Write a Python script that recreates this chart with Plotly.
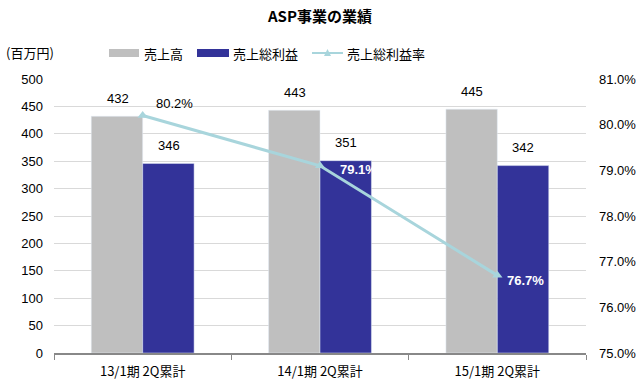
import plotly.graph_objects as go

categories = ["13/1期 2Q累計", "14/1期 2Q累計", "15/1期 2Q累計"]
sales = [432, 443, 445]
gross_profit = [346, 351, 342]
gross_margin = [80.2, 79.1, 76.7]
left_ticks = [0, 50, 100, 150, 200, 250, 300, 350, 400, 450, 500]
right_ticks = [75.0, 76.0, 77.0, 78.0, 79.0, 80.0, 81.0]

FONT = "Liberation Sans, Arial, Noto Sans CJK JP, sans-serif"
JP = "Noto Sans CJK JP, Liberation Sans, sans-serif"
GRAY = "#bfbfbf"
BLUE = "#333399"
LINE = "#a8d5dc"

fig = go.Figure()
fig.add_trace(go.Bar(x=categories, y=sales, name="売上高", marker_color=GRAY, offsetgroup="a"))
fig.add_trace(go.Bar(x=categories, y=gross_profit, name="売上総利益", marker_color=BLUE, offsetgroup="b"))
fig.add_trace(go.Scatter(x=categories, y=gross_margin, name="売上総利益率", yaxis="y2",
                         mode="lines+markers", line=dict(color=LINE, width=3),
                         marker=dict(symbol="triangle-up", size=9, color=LINE)))

annotations = []
for c, v in zip(categories, sales):
    annotations.append(dict(x=c, y=v, xref="x", yref="y", text=str(v), showarrow=False,
                            xshift=-25, yshift=18, font=dict(size=13, color="#000", family=FONT)))
for c, v in zip(categories, gross_profit):
    annotations.append(dict(x=c, y=v, xref="x", yref="y", text=str(v), showarrow=False,
                            xshift=26, yshift=18, font=dict(size=13, color="#000", family=FONT)))
m_shifts = [(11, 12, "#000", False), (18, -4, "#fff", True), (8, -5, "#fff", True)]
for c, v, (xs, ys, col, bold) in zip(categories, gross_margin, m_shifts):
    t = f"{v:.1f}%"
    if bold:
        t = f"<b>{t}</b>"
    annotations.append(dict(x=c, y=v, xref="x", yref="y2", text=t, showarrow=False,
                            xanchor="left", xshift=xs, yshift=ys,
                            font=dict(size=13, color=col, family=FONT)))

fig.update_layout(
    width=638, height=386,
    margin=dict(l=54, r=52, t=79, b=33, autoexpand=False),
    paper_bgcolor="white", plot_bgcolor="white",
    showlegend=False,
    barmode="group", bargap=0.42, bargroupgap=0,
    font=dict(family=FONT, size=13, color="#000"),
    xaxis=dict(showline=True, linecolor="#888888", linewidth=2, ticks="outside",
               ticklen=5, tickcolor="#888888", tickwidth=1, tickson="boundaries",
               ticklabelstandoff=5, automargin=False,
               tickfont=dict(family=JP, size=13), showgrid=False),
    yaxis=dict(range=[0, 500], tickvals=left_ticks, showgrid=True, gridcolor="#d9d9d9",
               gridwidth=1, zeroline=False, ticks="", ticklabelstandoff=10, automargin=False,
               tickfont=dict(size=13)),
    yaxis2=dict(range=[75, 81], tickvals=right_ticks, ticktext=[f"{v:.1f}%" for v in right_ticks],
                overlaying="y", side="right", showgrid=False, zeroline=False, ticks="",
                ticklabelstandoff=12, automargin=False, tickfont=dict(size=13)),
)

# title / unit / manual legend in pixel-like paper coords
H = 386 - 79 - 33
W = 638 - 54 - 52
def px(x):
    return (x - 54) / W
def py(y):
    return (353 - y) / H

annotations.append(dict(x=px(319), y=py(15), xref="paper", yref="paper", text="<b>ASP事業の業績</b>",
                        yanchor="middle", showarrow=False, font=dict(size=15, color="#000", family=JP)))
annotations.append(dict(x=px(4), y=py(52), xref="paper", yref="paper", text="(百万円)",
                        xanchor="left", yanchor="middle", showarrow=False,
                        font=dict(size=13, color="#000", family=JP)))
legend_items = [("売上高", 142), ("売上総利益", 231), ("売上総利益率", 345)]
for t, x0 in legend_items:
    annotations.append(dict(x=px(x0), y=py(53), xref="paper", yref="paper", text=t, xanchor="left",
                            yanchor="middle", showarrow=False,
                            font=dict(size=13, color="#000", family=JP)))
fig.update_layout(annotations=annotations)

shapes = [
    dict(type="rect", xref="paper", yref="paper", x0=px(109), x1=px(139), y0=py(57), y1=py(49),
         fillcolor=GRAY, line=dict(width=0)),
    dict(type="rect", xref="paper", yref="paper", x0=px(197), x1=px(229), y0=py(57), y1=py(49),
         fillcolor=BLUE, line=dict(width=0)),
    dict(type="line", xref="paper", yref="paper", x0=px(312), x1=px(343), y0=py(53), y1=py(53),
         line=dict(color=LINE, width=2)),
    dict(type="path", xref="paper", yref="paper",
         path=f"M {px(324)} {py(56)} L {px(331)} {py(56)} L {px(327.5)} {py(49)} Z",
         fillcolor=LINE, line=dict(width=0)),
]
fig.update_layout(shapes=shapes)

fig.write_html("out.html", config={"displayModeBar": False})

with open("out.html", "r", encoding="utf-8") as f:
    html = f.read()
html = html.replace("<head>", "<head><style>html,body{margin:0;padding:0;overflow:hidden;}</style>", 1)
with open("out.html", "w", encoding="utf-8") as f:
    f.write(html)
